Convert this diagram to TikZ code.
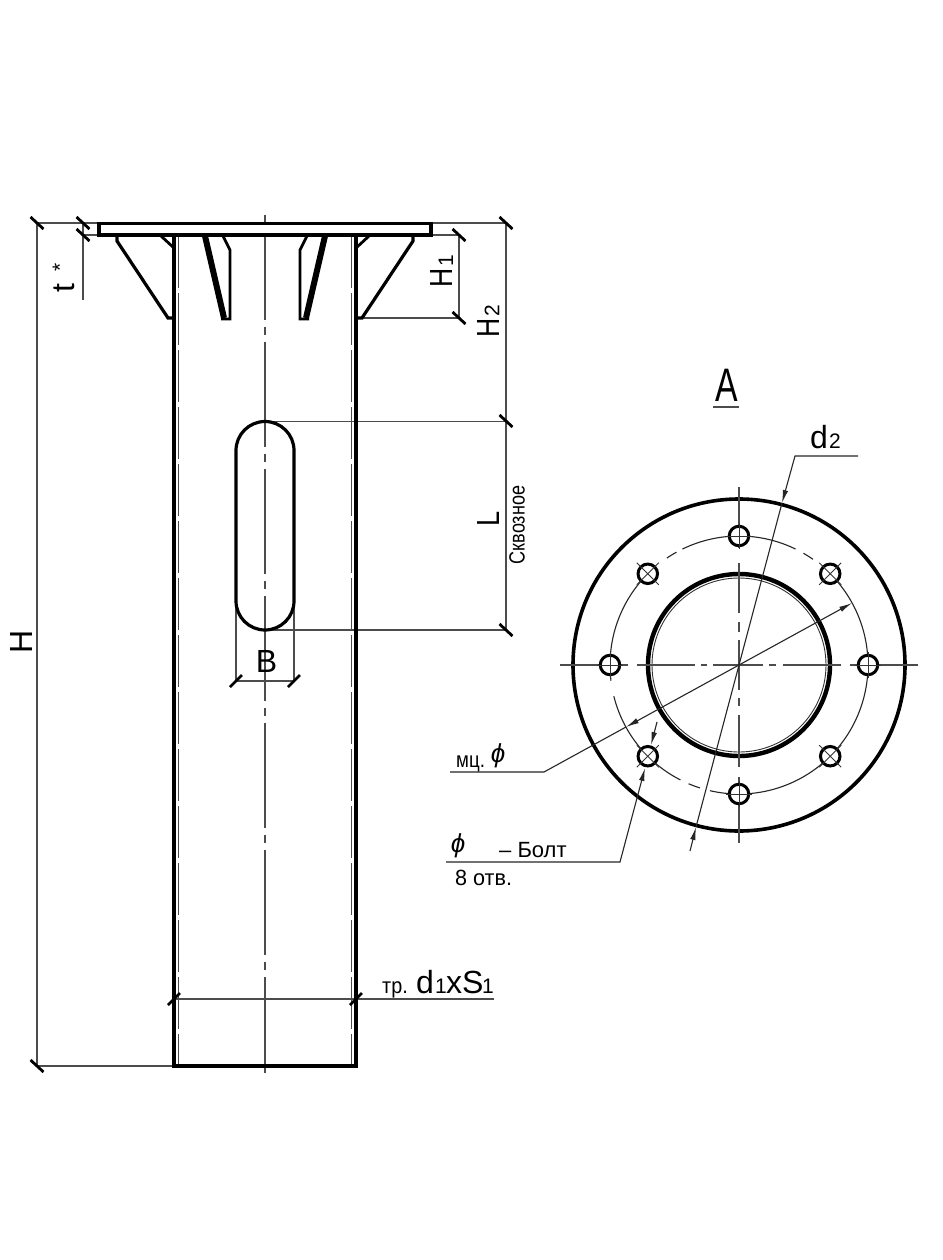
\documentclass[tikz,border=0pt]{standalone}
\usepackage{fontspec}
\setmainfont{Liberation Sans}
\usetikzlibrary{arrows.meta,calc}
\tikzset{
  x=1pt,y=-1pt,
  thick line/.style={line width=3.5pt,line join=miter,black},
  mid line/.style={line width=2.8pt,black,line join=miter},
  thin line/.style={line width=1.1pt,black!70},
  hidden line/.style={line width=1.1pt,black!70,dash pattern=on 52pt off 5pt},
  axis line/.style={line width=1.1pt,black!70,dash pattern=on 105pt off 7pt on 8pt off 7pt},
  tickmark/.style={line width=2.8pt,black},
  leader/.style={line width=1.1pt,black!85},
  arrowed/.style={-{Latex[length=13pt,width=5.5pt]}},
  lbl/.style={inner sep=0pt,text=black,font=\fontsize{32}{32}\selectfont},
  sublbl/.style={inner sep=0pt,text=black,font=\fontsize{21}{21}\selectfont},
  hand/.style={inner sep=0pt,text=black,font=\fontsize{22}{22}\selectfont},
  hole/.style={circle,draw=black,fill=white,line width=3pt,minimum size=19.5pt,inner sep=0pt},
  crossmark/.style={line width=.9pt,black!80},
}
\newcommand{\ticka}[2]{\draw[tickmark] (#1-6.5,#2-6) -- (#1+6.5,#2+6);}
\newcommand{\tickb}[2]{\draw[tickmark] (#1-6,#2+6) -- (#1+6,#2-6);}
\newcommand{\boltarc}[2]{\draw[line width=1.1pt,black!85,domain=#1:#2,samples=60,smooth] plot ({739+129*cos(\x)},{665-129*sin(\x)});}
\begin{document}
\begin{tikzpicture}
\useasboundingbox[fill=white] (0,0) rectangle (942,1260);
% axis
\draw[axis line] (265,215) -- (265,1073);
% dimension lines
\draw[thin line] (37,223) -- (99,223) (83,235) -- (99,235) (37,223) -- (37,1066) -- (174,1066) (83,223) -- (83,300);
\draw[thin line] (431,223) -- (506,223) -- (506,630) (431,235) -- (459,235) -- (459,318) -- (360,318);
\draw[thin line] (265,421.5) -- (506,421.5) (265,630) -- (506,630);
\draw[thin line] (236,600) -- (236,681) -- (294,681) -- (294,600);
\draw[thin line] (174,999) -- (494,999);
% hidden
\draw[hidden line] (178.6,236) -- (178.6,1066) (351.4,236) -- (351.4,1066);
% tube
\draw[thick line] (173.8,236) -- (173.8,1066) -- (356.2,1066) -- (356.2,236);
\draw[thick line,fill=white] (99,223.5) rectangle (431,235);
% gussets
\draw[mid line,line width=3.2pt] (117,236) -- (117,241) -- (168,318) -- (174,318);
\draw[mid line,line width=3.2pt] (413,236) -- (413,241) -- (362,318) -- (356,318);
\draw[mid line] (161,236) -- (174,248);
\draw[mid line] (369,236) -- (356,248);
\draw[black,line width=6pt] (205,236) -- (224,318);
\draw[mid line] (223,236) -- (230,250) -- (230,319) -- (221,319);
\draw[black,line width=6pt] (325,236) -- (306,318);
\draw[mid line] (307,236) -- (300,250) -- (300,319) -- (309,319);
% slot
\draw[mid line,line width=3.2pt,rounded corners=29pt] (236,421.5) rectangle (294,630);
% ticks
\ticka{37}{223}\ticka{83}{223}\ticka{83}{235}\ticka{37}{1066}
\ticka{506}{223}\ticka{459}{235}\ticka{459}{318}\ticka{506}{421}\ticka{506}{630}
\tickb{236}{681}\tickb{294}{681}\tickb{174}{999}\tickb{356}{999}
% labels left
\node[lbl,rotate=90] (lH) at (21.5,642) {H};
\node[lbl,rotate=90] (lt) at (64,288) {t};
\node[sublbl,rotate=90] (lstar) at (60,267) {*};
\node[lbl,rotate=90,xscale=.83] (lHa) at (441.5,278) {H};
\node[sublbl,rotate=90] (lHas) at (446,261) {1};
\node[lbl,rotate=90,xscale=.83] (lHb) at (488,327.5) {H};
\node[sublbl,rotate=90] (lHbs) at (492,311) {2};
\node[lbl,rotate=90,xscale=.85] (lL) at (488.5,519) {L};
\node[hand,rotate=90,xscale=.82] (lsk) at (517,525) {Сквозное};
\node[lbl] (lB) at (266.5,661.5) {B};
\node[hand,xscale=.9,anchor=base west] (ltr) at (382,993) {тр.};
\node[lbl,anchor=base west] (ldo) at (416,993) {d};
\node[sublbl,anchor=base west] (ldos) at (435,993) {1};
\node[lbl,anchor=base west] (lx) at (446,993) {xS};
\node[sublbl,anchor=base west] (lSs) at (482,993) {1};
% right view
\coordinate (c) at (739,665);
\node[inner sep=0pt,text=black,font=\fontsize{47}{47}\selectfont,xscale=.72] (lA) at (727,385) {A};
\draw[thin line,line width=1.4pt] (713,407) -- (739,407);
\draw[black,line width=3.6pt] (c) circle[radius=166];
\draw[black,line width=4.4pt] (c) circle[radius=91];
\draw[line width=.9pt,black!80] (c) circle[radius=87];
\boltarc{-90}{45}
\boltarc{55}{60}
\boltarc{64}{116}
\boltarc{119}{124}
\boltarc{135}{187}
\boltarc{194}{243}
\boltarc{247}{252.4}
\boltarc{257}{270}
% axes of the plate
\draw[thin line] (560,665) -- (628,665) (637,665) -- (695,665) (701,665) -- (707,665) (713,665) -- (763,665) (769,665) -- (776,665) (783,665) -- (841,665) (850,665) -- (918,665);
\draw[thin line] (739,487) -- (739,548) (739,563) -- (739,613) (739,622) -- (739,632) (739,640) -- (739,690) (739,698) -- (739,706) (739,715) -- (739,767) (739,777) -- (739,843);
% holes
\foreach \n/\a in {h1/90,h3/0,h5/-90,h7/180}{
  \node[hole] (\n) at ({739+129*cos(\a)},{665-129*sin(\a)}) {};
  \draw[crossmark] ($(\n)+(-13,0)$) -- ($(\n)+(13,0)$) ($(\n)+(0,-13)$) -- ($(\n)+(0,13)$);
}
\foreach \n/\a in {h2/45,h4/-45,h6/-135,h8/135}{
  \node[hole] (\n) at ({739+129*cos(\a)},{665-129*sin(\a)}) {};
  \draw[crossmark] ($(\n)+(-11,-11)$) -- ($(\n)+(11,11)$) ($(\n)+(-11,11)$) -- ($(\n)+(11,-11)$);
}
% leaders
\coordinate (dA) at (858,456);
\coordinate (dB) at (795,456);
\coordinate (dC) at (782,503);
\coordinate (dD) at (696,827);
\coordinate (dE) at (690,851);
\draw[leader] (dC) -- (dD);
\draw[leader,arrowed] (dA) -- (dB) -- (dC);
\draw[leader,arrowed] (dE) -- (dD);
\coordinate (mA) at (450,772);
\coordinate (mB) at (544,772);
\coordinate (mC) at (626,727);
\coordinate (mD) at (852,603);
\draw[leader,arrowed] (c) -- (mD);
\draw[leader] (mA) -- (mB) -- (mC);
\draw[leader,arrowed] (c) -- (mC);
\coordinate (bA) at (446,862);
\coordinate (bB) at (620,862);
\coordinate (bC) at (645,768);
\coordinate (bD) at (657,722);
\coordinate (bE) at (651,745);
\draw[leader,arrowed] (bA) -- (bB) -- (bC);
\draw[leader,arrowed] (bD) -- (bE);
% labels right
\node[lbl,anchor=base west] (ldt) at (810,448) {d};
\node[sublbl,anchor=base west] (ldts) at (829,448) {2};
\node[hand,anchor=base west,xscale=.85] (lmc) at (456,767) {мц.};
\node[hand,font=\fontsize{26}{26}\selectfont\itshape] (lphia) at (498,756) {ϕ};
\node[hand,font=\fontsize{26}{26}\selectfont\itshape] (lphib) at (458,846) {ϕ};
\node[hand,anchor=base west] (lbolt) at (499,857) {– Болт};
\node[hand,anchor=base west,xscale=.98] (lholes) at (455,885) {8 отв.};
\end{tikzpicture}
\end{document}
